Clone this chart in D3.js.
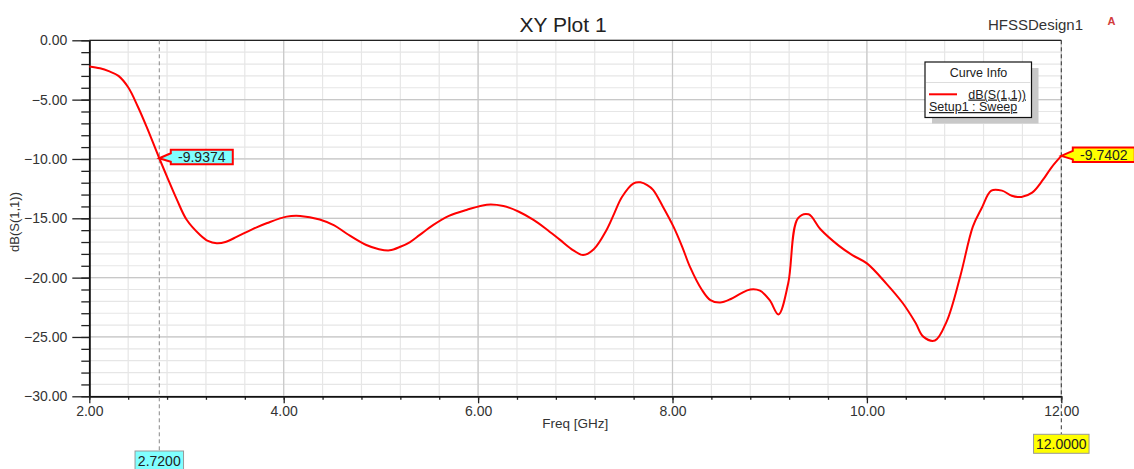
<!DOCTYPE html>
<html>
<head>
<meta charset="utf-8">
<script src="https://cdn.jsdelivr.net/npm/d3@7"></script>
<style>
  body { margin: 0; background: #fff; }
  svg { font-family: "Liberation Sans", Arial, sans-serif; }
</style>
</head>
<body>
<div id="chart"></div>
<script>
"use strict";

// sweep
var freqGHz = [2.00, 2.11, 2.20, 2.30, 2.40, 2.50, 2.59, 2.72, 2.80, 2.90,
               3.00, 3.14, 3.22, 3.31, 3.40, 3.52, 3.67, 3.83, 4.03, 4.17,
               4.37, 4.52, 4.65, 4.85, 4.98, 5.09, 5.20, 5.30, 5.40, 5.54,
               5.70, 5.88, 6.09, 6.26, 6.42, 6.57, 6.70, 6.84, 6.98, 7.08,
               7.19, 7.32, 7.40, 7.48, 7.60, 7.67, 7.74, 7.80, 7.90, 8.01,
               8.10, 8.18, 8.30, 8.39, 8.49, 8.60, 8.70, 8.80, 8.90, 9.00,
               9.09, 9.19, 9.29, 9.40, 9.52, 9.71, 9.85, 10.00, 10.20, 10.37,
               10.50, 10.58, 10.70, 10.82, 10.96, 11.09, 11.18, 11.28, 11.39, 11.49,
               11.59, 11.70, 11.81, 11.90, 12.00];
var s11dB = [-2.20, -2.36, -2.60, -3.00, -3.96, -5.60, -7.30, -9.94, -11.5, -13.4,
             -15.1, -16.4, -16.9, -17.1, -17.0, -16.55, -15.95, -15.4, -14.86, -14.8,
             -15.1, -15.6, -16.3, -17.25, -17.6, -17.7, -17.4, -17.0, -16.4, -15.56,
             -14.8, -14.3, -13.85, -13.96, -14.45, -15.14, -15.9, -16.8, -17.7, -18.1,
             -17.6, -16.0, -14.6, -13.2, -12.05, -11.97, -12.2, -12.6, -14.0, -15.7,
             -17.4, -19.1, -21.0, -21.9, -22.1, -21.8, -21.35, -21.0, -21.1, -21.9,
             -23.1, -20.5, -15.0, -14.66, -15.9, -17.3, -18.1, -18.8, -20.5, -22.16,
             -23.8, -24.97, -25.3, -23.7, -19.9, -15.7, -14.15, -12.67, -12.67, -13.1,
             -13.2, -12.84, -11.77, -10.7, -9.74];

var xTickValues = [2, 4, 6, 8, 10, 12];
var yTickValues = [0, -5, -10, -15, -20, -25, -30];

var markerFreqs = [2.72, 12.0];
var markerValues = [-9.9374, -9.7402];
var markerFreqLabels = ["2.7200", "12.0000"];
var markerValueLabels = ["-9.9374", "-9.7402"];

var chartTitle = "XY Plot 1";
var designName = "HFSSDesign1";
var xTitle = "Freq [GHz]";
var yTitle = "dB(S(1,1))";
var legendTitle = "Curve Info";
var legendSeries = "dB(S(1,1))";
var legendSetup = "Setup1 : Sweep";

var data = freqGHz.map(function(f, i) { return {f: f, v: s11dB[i]}; });

var svgWidth = 1134, svgHeight = 469;
var margin = {top: 40.3, left: 89.3},
    width = 972,
    height = 356;

var x = d3.scaleLinear().domain([2, 12]).range([0, width]);
var y = d3.scaleLinear().domain([-30, 0]).range([height, 0]);

var svg = d3.select("#chart").append("svg")
    .attr("width", svgWidth)
    .attr("height", svgHeight);

var g = svg.append("g")
    .attr("transform", "translate(" + margin.left + "," + margin.top + ")");

// grid
var xMinor = d3.range(2, 12.001, 0.4), yMinor = d3.range(-30, 0.001, 1);
g.append("g").selectAll("line").data(xMinor).enter().append("line")
    .attr("x1", function(d) { return x(d); }).attr("x2", function(d) { return x(d); })
    .attr("y1", 0).attr("y2", height)
    .attr("stroke", "#e6e6e6").attr("stroke-width", 1.2);
g.append("g").selectAll("line").data(yMinor).enter().append("line")
    .attr("y1", function(d) { return y(d); }).attr("y2", function(d) { return y(d); })
    .attr("x1", 0).attr("x2", width)
    .attr("stroke", "#e6e6e6").attr("stroke-width", 1.2);
g.append("g").selectAll("line").data(xTickValues).enter().append("line")
    .attr("x1", function(d) { return x(d); }).attr("x2", function(d) { return x(d); })
    .attr("y1", 0).attr("y2", height)
    .attr("stroke", "#c8c8c8").attr("stroke-width", 1.2);
g.append("g").selectAll("line").data(yTickValues).enter().append("line")
    .attr("y1", function(d) { return y(d); }).attr("y2", function(d) { return y(d); })
    .attr("x1", 0).attr("x2", width)
    .attr("stroke", "#c8c8c8").attr("stroke-width", 1.2);

// top border
g.append("line").attr("x1", 0).attr("x2", width).attr("y1", 0).attr("y2", 0)
    .attr("stroke", "#222").attr("stroke-width", 1.3);

// axes
function styleAxis(sel) {
  sel.selectAll("path").attr("stroke", "#111").attr("stroke-width", 1.5);
  sel.selectAll("line").attr("stroke", "#222").attr("stroke-width", 1.3);
  sel.selectAll("text").attr("fill", "#333").style("font-size", "14px")
     .style("font-family", "\"Liberation Sans\", Arial, sans-serif");
}

g.append("g")
    .call(d3.axisLeft(y).tickValues(yMinor).tickSize(8).tickSizeOuter(0).tickFormat(""))
    .call(styleAxis);
g.append("g")
    .call(d3.axisLeft(y).tickValues(yTickValues).tickSize(17).tickSizeOuter(0)
      .tickPadding(5).tickFormat(d3.format(".2f")))
    .call(styleAxis);

g.append("g")
    .attr("transform", "translate(0," + height + ")")
    .call(d3.axisBottom(x).tickValues(xMinor).tickSize(3.5).tickSizeOuter(0).tickFormat(""))
    .call(styleAxis);
g.append("g")
    .attr("transform", "translate(0," + height + ")")
    .call(d3.axisBottom(x).tickValues(xTickValues).tickSize(7).tickSizeOuter(0)
      .tickPadding(3).tickFormat(d3.format(".2f")))
    .call(styleAxis);

// marker lines
var markerLineColors = ["#888", "#333"];
var markerLineEnds = [451 - margin.top, 434 - margin.top];
markerFreqs.forEach(function(f, i) {
  g.append("line")
      .attr("x1", x(f)).attr("x2", x(f))
      .attr("y1", 0).attr("y2", markerLineEnds[i])
      .attr("stroke", markerLineColors[i])
      .attr("stroke-width", 1)
      .attr("stroke-dasharray", "4,3");
});

// curve
var line = d3.line()
    .curve(d3.curveCatmullRom.alpha(0.5))
    .x(function(d) { return x(d.f); })
    .y(function(d) { return y(d.v); });

g.append("path")
    .datum(data)
    .attr("fill", "none")
    .attr("stroke", "#ff0000")
    .attr("stroke-width", 2)
    .attr("stroke-linejoin", "round")
    .attr("d", line);

// marker value callouts
var markerFills = ["#80ffff", "#ffff00"];
markerFreqs.forEach(function(f, i) {
  var tx = x(f), ty = y(markerValues[i]);
  var bx = tx + 11.5, top = ty - 8.5, bottom = ty + 6, right = bx + 62;
  var pts = [[tx, ty], [bx, ty - 5], [bx, top], [right, top], [right, bottom], [bx, bottom], [bx, ty + 3.5]];
  g.append("polygon")
      .attr("points", pts.map(function(p) { return p.join(","); }).join(" "))
      .attr("fill", markerFills[i])
      .attr("stroke", "#ff0000")
      .attr("stroke-width", 2)
      .attr("stroke-linejoin", "miter");
  g.append("text")
      .attr("x", bx + 31).attr("y", ty + 4)
      .attr("text-anchor", "middle")
      .attr("fill", "#222")
      .style("font-size", "14px")
      .text(markerValueLabels[i]);
});

// marker frequency labels below the axis
var freqBoxTops = [451, 434.3];
var freqBoxWidths = [48.5, 55.5];
markerFreqs.forEach(function(f, i) {
  var cx = margin.left + x(f);
  svg.append("rect")
      .attr("x", cx - freqBoxWidths[i] / 2).attr("y", freqBoxTops[i])
      .attr("width", freqBoxWidths[i]).attr("height", 19)
      .attr("fill", markerFills[i])
      .attr("stroke", "#999").attr("stroke-width", 1);
  svg.append("text")
      .attr("x", cx).attr("y", freqBoxTops[i] + 15)
      .attr("text-anchor", "middle")
      .attr("fill", "#222")
      .style("font-size", "14px")
      .text(markerFreqLabels[i]);
});

// titles
svg.append("text")
    .attr("x", 563).attr("y", 31.5)
    .attr("text-anchor", "middle")
    .attr("fill", "#222")
    .style("font-size", "21px")
    .text(chartTitle);

svg.append("text")
    .attr("x", 988).attr("y", 29.5)
    .attr("fill", "#333")
    .style("font-size", "15px")
    .text(designName);

svg.append("text")
    .attr("x", 1111.5).attr("y", 25)
    .attr("text-anchor", "middle")
    .attr("fill", "#d23c3c")
    .style("font-size", "11px")
    .style("font-weight", "bold")
    .text("A");

svg.append("text")
    .attr("x", margin.left + width / 2).attr("y", 428)
    .attr("text-anchor", "middle")
    .attr("fill", "#333")
    .style("font-size", "13.5px")
    .text(xTitle);

svg.append("text")
    .attr("transform", "translate(19,222) rotate(-90)")
    .attr("text-anchor", "middle")
    .attr("fill", "#333")
    .style("font-size", "13px")
    .text(yTitle);

// legend
var lg = svg.append("g").attr("transform", "translate(925,62)");
lg.append("rect")
    .attr("x", 7).attr("y", 6).attr("width", 106.5).attr("height", 55.5)
    .attr("fill", "#c8c8c8");
lg.append("rect")
    .attr("x", 0).attr("y", 0).attr("width", 106.5).attr("height", 55.5)
    .attr("fill", "#fff").attr("stroke", "#111").attr("stroke-width", 1.2);
lg.append("line")
    .attr("x1", 1).attr("x2", 105.5).attr("y1", 20.5).attr("y2", 20.5)
    .attr("stroke", "#ddd");
lg.append("text")
    .attr("x", 53.5).attr("y", 15)
    .attr("text-anchor", "middle")
    .attr("fill", "#222")
    .style("font-size", "12.5px")
    .text(legendTitle);
lg.append("line")
    .attr("x1", 4).attr("x2", 32).attr("y1", 32.3).attr("y2", 32.3)
    .attr("stroke", "#ff0000").attr("stroke-width", 2);
lg.append("text")
    .attr("x", 101).attr("y", 36.5)
    .attr("text-anchor", "end")
    .attr("fill", "#222")
    .style("font-size", "12.5px")
    .style("text-decoration", "underline")
    .text(legendSeries);
lg.append("text")
    .attr("x", 4).attr("y", 49)
    .attr("fill", "#222")
    .style("font-size", "12.5px")
    .style("text-decoration", "underline")
    .text(legendSetup);
</script>
</body>
</html>
